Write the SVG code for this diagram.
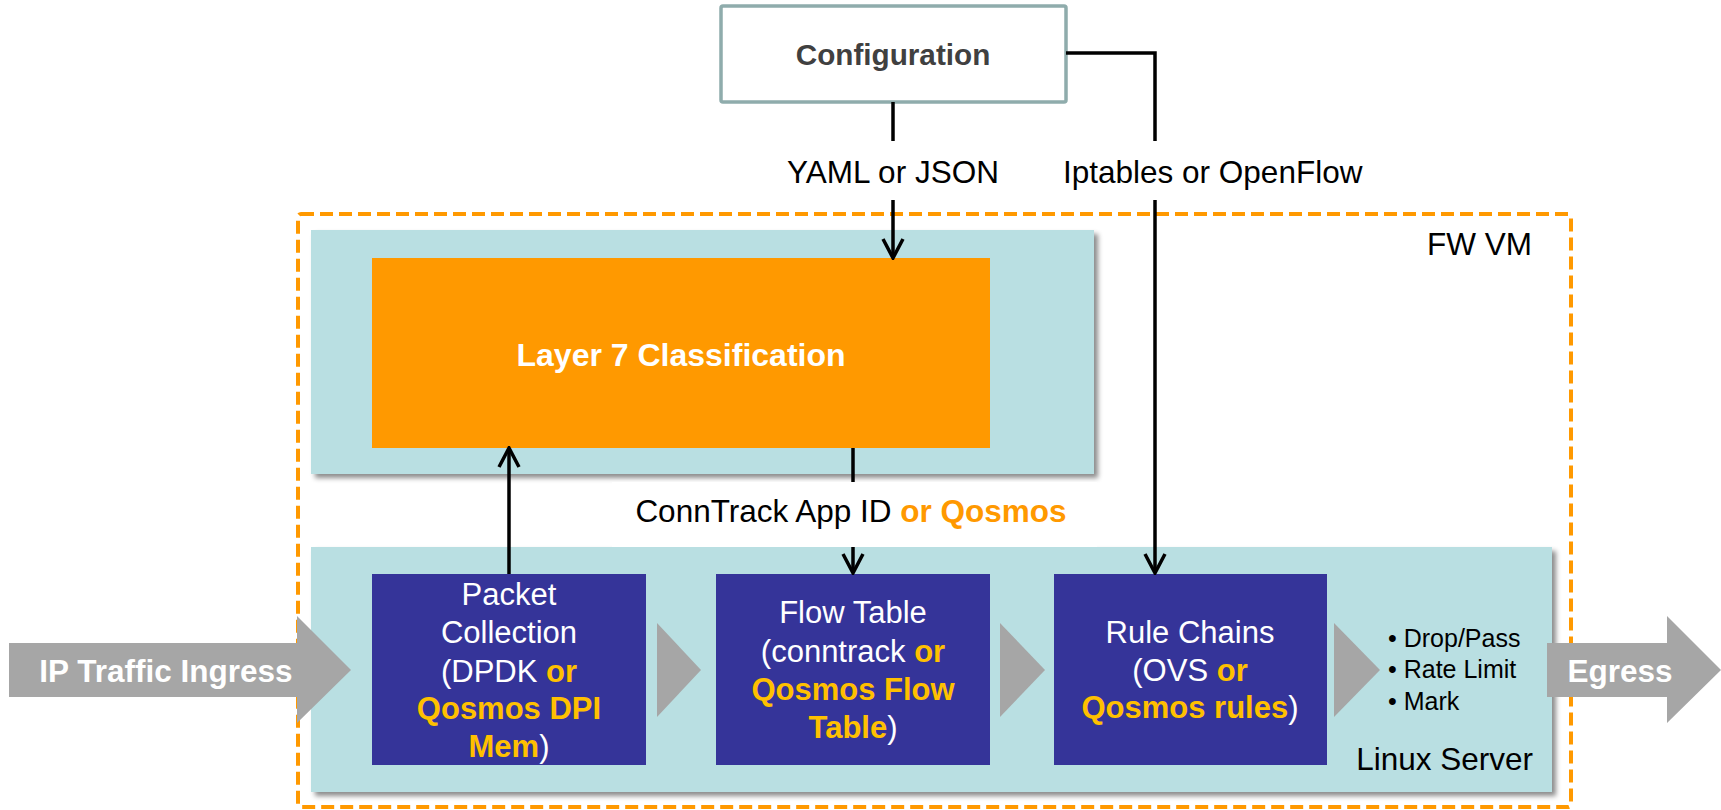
<svg xmlns="http://www.w3.org/2000/svg" width="1721" height="810" viewBox="0 0 1721 810">
<style>
text{font-family:"Liberation Sans",Arial,sans-serif}
.lbl{font-size:31.5px;fill:#000}
.wb{font-size:31.5px;font-weight:bold;fill:#fff}
.bx{font-size:31px;fill:#fff;text-anchor:middle}
.gold{fill:#FFC000;font-weight:bold}
.teal{fill:#B9DFE2}
.blue{fill:#353499}
.tri{fill:#A6A6A6}
.conn{stroke:#000;stroke-width:3.5;fill:none}
</style>
<defs>
<filter id="sh" x="-5%" y="-5%" width="115%" height="120%">
<feDropShadow dx="4" dy="4" stdDeviation="2.5" flood-color="#000" flood-opacity="0.45"/>
</filter>
<marker id="ah" viewBox="0 0 22 24" refX="20" refY="12" markerWidth="22" markerHeight="24" markerUnits="userSpaceOnUse" orient="auto">
<path d="M1,2 L20,12 L1,22" fill="none" stroke="#000" stroke-width="3.5"/>
</marker>
</defs>
<rect width="1721" height="810" fill="#fff"/>

<g id="fw-vm">
<rect x="298" y="214" width="1273" height="593" rx="3" fill="none" stroke="#FF9900" stroke-width="4" stroke-dasharray="13 6"/>
<text class="lbl" x="1532" y="255" text-anchor="end">FW VM</text>
</g>

<g id="upper-panel">
<rect class="teal" x="311" y="230" width="783" height="244" filter="url(#sh)"/>
</g>

<g id="layer7">
<rect x="372" y="258" width="618" height="190" fill="#FF9900"/>
<text class="wb" x="681" y="366" text-anchor="middle" style="font-size:32px">Layer 7 Classification</text>
</g>

<g id="linux-server">
<rect class="teal" x="311" y="547" width="1241" height="245" filter="url(#sh)"/>
<text class="lbl" x="1533" y="770" text-anchor="end">Linux Server</text>
</g>

<g id="configuration">
<rect x="721" y="6" width="345" height="96" rx="2" fill="#fff" stroke="#8FACAC" stroke-width="3.5"/>
<text x="893" y="65" text-anchor="middle" style="font-size:29.7px;font-weight:bold;fill:#404040">Configuration</text>
</g>

<g id="ingress">
<polygon class="tri" points="9,643 297,643 297,616 351,670 297,723 297,697 9,697"/>
<text class="wb" x="166" y="682" text-anchor="middle">IP Traffic Ingress</text>
</g>

<g id="egress">
<polygon class="tri" points="1547,643 1667,643 1667,616 1721,670 1667,723 1667,697 1547,697"/>
<text class="wb" x="1620" y="682" text-anchor="middle">Egress</text>
</g>

<g id="packet-collection">
<rect class="blue" x="372" y="574" width="274" height="191"/>
<text class="bx" x="509" y="605">Packet</text>
<text class="bx" x="509" y="643">Collection</text>
<text class="bx" x="509" y="682">(DPDK <tspan class="gold">or</tspan></text>
<text class="bx gold" x="509" y="719">Qosmos DPI</text>
<text class="bx" x="509" y="757"><tspan class="gold">Mem</tspan>)</text>
</g>

<g id="flow-table">
<rect class="blue" x="716" y="574" width="274" height="191"/>
<text class="bx" x="853" y="623">Flow Table</text>
<text class="bx" x="853" y="662">(conntrack <tspan class="gold">or</tspan></text>
<text class="bx gold" x="853" y="700">Qosmos Flow</text>
<text class="bx" x="853" y="738"><tspan class="gold">Table</tspan>)</text>
</g>

<g id="rule-chains">
<rect class="blue" x="1054" y="574" width="273" height="191"/>
<text class="bx" x="1190" y="643">Rule Chains</text>
<text class="bx" x="1190" y="681">(OVS <tspan class="gold">or</tspan></text>
<text class="bx" x="1190" y="718"><tspan class="gold">Qosmos rules</tspan>)</text>
</g>

<g id="actions">
<text style="font-size:25px" x="1388" y="647">• Drop/Pass</text>
<text style="font-size:25px" x="1388" y="678">• Rate Limit</text>
<text style="font-size:25px" x="1388" y="710">• Mark</text>
</g>

<g id="flow-triangles">
<polygon class="tri" points="657,623 701,670 657,717"/>
<polygon class="tri" points="1000,623 1045,670 1000,717"/>
<polygon class="tri" points="1334,623 1380,670 1334,717"/>
</g>

<g id="connectors">
<line class="conn" x1="893" y1="102" x2="893" y2="141"/>
<text class="lbl" x="893" y="183" text-anchor="middle">YAML or JSON</text>
<line class="conn" x1="893" y1="200" x2="893" y2="258" marker-end="url(#ah)"/>
<polyline class="conn" points="1066,53 1155,53 1155,141"/>
<text class="lbl" x="1063" y="183">Iptables or OpenFlow</text>
<line class="conn" x1="1155" y1="200" x2="1155" y2="573" marker-end="url(#ah)"/>
<line class="conn" x1="509" y1="574" x2="509" y2="448" marker-end="url(#ah)"/>
<line class="conn" x1="853" y1="448" x2="853" y2="573" marker-end="url(#ah)"/>
<rect x="612" y="482" width="485" height="65" fill="#fff"/>
<text class="lbl" x="851" y="522" text-anchor="middle">ConnTrack App ID <tspan style="fill:#FF9900;font-weight:bold">or Qosmos</tspan></text>
</g>
</svg>
